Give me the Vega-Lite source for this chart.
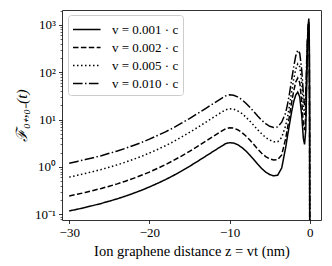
{
"$schema": "https://vega.github.io/schema/vega-lite/v6.json",
"width": 259, "height": 210,
"autosize": {"type": "none"},
"padding": {"left": 62, "top": 10, "right": 11, "bottom": 46},
"background": "white",
"config": {"view": {"stroke": "#333", "strokeWidth": 1}, "font": "Liberation Serif"},
"datasets": {"curves": [
{"z":-30,"v":"0.001","F":0.118},{"z":-29,"v":"0.001","F":0.128},{"z":-28,"v":"0.001","F":0.140},{"z":-27,"v":"0.001","F":0.154},{"z":-26,"v":"0.001","F":0.170},{"z":-25,"v":"0.001","F":0.190},{"z":-24,"v":"0.001","F":0.213},{"z":-23,"v":"0.001","F":0.242},{"z":-22,"v":"0.001","F":0.278},{"z":-21,"v":"0.001","F":0.322},{"z":-20,"v":"0.001","F":0.378},{"z":-19,"v":"0.001","F":0.45},{"z":-18,"v":"0.001","F":0.54},{"z":-17,"v":"0.001","F":0.66},{"z":-16,"v":"0.001","F":0.82},{"z":-15,"v":"0.001","F":1.03},{"z":-14,"v":"0.001","F":1.31},{"z":-13,"v":"0.001","F":1.68},{"z":-12,"v":"0.001","F":2.15},{"z":-11,"v":"0.001","F":2.75},{"z":-10.5,"v":"0.001","F":3.1},{"z":-10,"v":"0.001","F":3.25},{"z":-9.5,"v":"0.001","F":3.2},{"z":-9,"v":"0.001","F":2.95},{"z":-8.5,"v":"0.001","F":2.6},{"z":-8,"v":"0.001","F":2.2},{"z":-7.5,"v":"0.001","F":1.8},{"z":-7,"v":"0.001","F":1.45},{"z":-6.5,"v":"0.001","F":1.15},{"z":-6,"v":"0.001","F":0.93},{"z":-5.5,"v":"0.001","F":0.78},{"z":-5,"v":"0.001","F":0.69},{"z":-4.5,"v":"0.001","F":0.65},{"z":-4,"v":"0.001","F":0.67},{"z":-3.5,"v":"0.001","F":0.95},{"z":-3,"v":"0.001","F":2.6},{"z":-2.75,"v":"0.001","F":4.8},{"z":-2.5,"v":"0.001","F":8.5},{"z":-2.25,"v":"0.001","F":15},{"z":-2,"v":"0.001","F":24},{"z":-1.75,"v":"0.001","F":33},{"z":-1.5,"v":"0.001","F":38},{"z":-1.25,"v":"0.001","F":30},{"z":-1,"v":"0.001","F":12},{"z":-0.8,"v":"0.001","F":4},{"z":-0.65,"v":"0.001","F":3},{"z":-0.5,"v":"0.001","F":6},{"z":-0.4,"v":"0.001","F":40},{"z":-0.3,"v":"0.001","F":250},{"z":-0.2,"v":"0.001","F":1000},{"z":-0.12,"v":"0.001","F":1350},{"z":-0.06,"v":"0.001","F":500},{"z":-0.02,"v":"0.001","F":10},{"z":0,"v":"0.001","F":0.005},
{"z":-30,"v":"0.002","F":0.245},{"z":-29,"v":"0.002","F":0.265},{"z":-28,"v":"0.002","F":0.29},{"z":-27,"v":"0.002","F":0.32},{"z":-26,"v":"0.002","F":0.352},{"z":-25,"v":"0.002","F":0.393},{"z":-24,"v":"0.002","F":0.44},{"z":-23,"v":"0.002","F":0.50},{"z":-22,"v":"0.002","F":0.575},{"z":-21,"v":"0.002","F":0.667},{"z":-20,"v":"0.002","F":0.78},{"z":-19,"v":"0.002","F":0.93},{"z":-18,"v":"0.002","F":1.12},{"z":-17,"v":"0.002","F":1.37},{"z":-16,"v":"0.002","F":1.70},{"z":-15,"v":"0.002","F":2.13},{"z":-14,"v":"0.002","F":2.71},{"z":-13,"v":"0.002","F":3.48},{"z":-12,"v":"0.002","F":4.45},{"z":-11,"v":"0.002","F":5.7},{"z":-10.5,"v":"0.002","F":6.4},{"z":-10,"v":"0.002","F":6.7},{"z":-9.5,"v":"0.002","F":6.6},{"z":-9,"v":"0.002","F":6.1},{"z":-8.5,"v":"0.002","F":5.4},{"z":-8,"v":"0.002","F":4.55},{"z":-7.5,"v":"0.002","F":3.75},{"z":-7,"v":"0.002","F":3.0},{"z":-6.5,"v":"0.002","F":2.4},{"z":-6,"v":"0.002","F":1.95},{"z":-5.5,"v":"0.002","F":1.65},{"z":-5,"v":"0.002","F":1.48},{"z":-4.5,"v":"0.002","F":1.40},{"z":-4,"v":"0.002","F":1.42},{"z":-3.5,"v":"0.002","F":1.8},{"z":-3,"v":"0.002","F":4.0},{"z":-2.75,"v":"0.002","F":7},{"z":-2.5,"v":"0.002","F":13},{"z":-2.25,"v":"0.002","F":24},{"z":-2,"v":"0.002","F":40},{"z":-1.75,"v":"0.002","F":62},{"z":-1.5,"v":"0.002","F":75},{"z":-1.25,"v":"0.002","F":60},{"z":-1,"v":"0.002","F":24},{"z":-0.8,"v":"0.002","F":8},{"z":-0.65,"v":"0.002","F":6},{"z":-0.5,"v":"0.002","F":12},{"z":-0.4,"v":"0.002","F":70},{"z":-0.3,"v":"0.002","F":350},{"z":-0.2,"v":"0.002","F":1000},{"z":-0.12,"v":"0.002","F":1150},{"z":-0.06,"v":"0.002","F":400},{"z":-0.02,"v":"0.002","F":8},{"z":0,"v":"0.002","F":0.005},
{"z":-30,"v":"0.005","F":0.61},{"z":-29,"v":"0.005","F":0.665},{"z":-28,"v":"0.005","F":0.73},{"z":-27,"v":"0.005","F":0.80},{"z":-26,"v":"0.005","F":0.885},{"z":-25,"v":"0.005","F":0.99},{"z":-24,"v":"0.005","F":1.11},{"z":-23,"v":"0.005","F":1.26},{"z":-22,"v":"0.005","F":1.45},{"z":-21,"v":"0.005","F":1.67},{"z":-20,"v":"0.005","F":1.97},{"z":-19,"v":"0.005","F":2.34},{"z":-18,"v":"0.005","F":2.8},{"z":-17,"v":"0.005","F":3.43},{"z":-16,"v":"0.005","F":4.26},{"z":-15,"v":"0.005","F":5.35},{"z":-14,"v":"0.005","F":6.8},{"z":-13,"v":"0.005","F":8.7},{"z":-12,"v":"0.005","F":11.2},{"z":-11,"v":"0.005","F":14.3},{"z":-10.5,"v":"0.005","F":16.1},{"z":-10,"v":"0.005","F":16.9},{"z":-9.5,"v":"0.005","F":16.6},{"z":-9,"v":"0.005","F":15.3},{"z":-8.5,"v":"0.005","F":13.5},{"z":-8,"v":"0.005","F":11.4},{"z":-7.5,"v":"0.005","F":9.4},{"z":-7,"v":"0.005","F":7.6},{"z":-6.5,"v":"0.005","F":6.1},{"z":-6,"v":"0.005","F":5.0},{"z":-5.5,"v":"0.005","F":4.2},{"z":-5,"v":"0.005","F":3.7},{"z":-4.5,"v":"0.005","F":3.4},{"z":-4,"v":"0.005","F":3.4},{"z":-3.5,"v":"0.005","F":4.2},{"z":-3,"v":"0.005","F":7.5},{"z":-2.75,"v":"0.005","F":12},{"z":-2.5,"v":"0.005","F":21},{"z":-2.25,"v":"0.005","F":40},{"z":-2,"v":"0.005","F":72},{"z":-1.75,"v":"0.005","F":115},{"z":-1.5,"v":"0.005","F":150},{"z":-1.25,"v":"0.005","F":130},{"z":-1,"v":"0.005","F":60},{"z":-0.8,"v":"0.005","F":20},{"z":-0.65,"v":"0.005","F":12},{"z":-0.5,"v":"0.005","F":20},{"z":-0.4,"v":"0.005","F":100},{"z":-0.3,"v":"0.005","F":400},{"z":-0.2,"v":"0.005","F":900},{"z":-0.12,"v":"0.005","F":1000},{"z":-0.06,"v":"0.005","F":350},{"z":-0.02,"v":"0.005","F":8},{"z":0,"v":"0.005","F":0.005},
{"z":-30,"v":"0.010","F":1.2},{"z":-29,"v":"0.010","F":1.31},{"z":-28,"v":"0.010","F":1.43},{"z":-27,"v":"0.010","F":1.57},{"z":-26,"v":"0.010","F":1.73},{"z":-25,"v":"0.010","F":1.94},{"z":-24,"v":"0.010","F":2.17},{"z":-23,"v":"0.010","F":2.47},{"z":-22,"v":"0.010","F":2.84},{"z":-21,"v":"0.010","F":3.28},{"z":-20,"v":"0.010","F":3.86},{"z":-19,"v":"0.010","F":4.6},{"z":-18,"v":"0.010","F":5.5},{"z":-17,"v":"0.010","F":6.7},{"z":-16,"v":"0.010","F":8.4},{"z":-15,"v":"0.010","F":10.5},{"z":-14,"v":"0.010","F":13.4},{"z":-13,"v":"0.010","F":17.1},{"z":-12,"v":"0.010","F":21.9},{"z":-11,"v":"0.010","F":28},{"z":-10.5,"v":"0.010","F":31.6},{"z":-10,"v":"0.010","F":33.2},{"z":-9.5,"v":"0.010","F":32.6},{"z":-9,"v":"0.010","F":30.1},{"z":-8.5,"v":"0.010","F":26.5},{"z":-8,"v":"0.010","F":22.4},{"z":-7.5,"v":"0.010","F":18.4},{"z":-7,"v":"0.010","F":14.8},{"z":-6.5,"v":"0.010","F":11.9},{"z":-6,"v":"0.010","F":9.7},{"z":-5.5,"v":"0.010","F":8.2},{"z":-5,"v":"0.010","F":7.2},{"z":-4.5,"v":"0.010","F":6.8},{"z":-4,"v":"0.010","F":7.0},{"z":-3.5,"v":"0.010","F":8.8},{"z":-3,"v":"0.010","F":14},{"z":-2.75,"v":"0.010","F":22},{"z":-2.5,"v":"0.010","F":38},{"z":-2.25,"v":"0.010","F":72},{"z":-2,"v":"0.010","F":130},{"z":-1.75,"v":"0.010","F":220},{"z":-1.5,"v":"0.010","F":290},{"z":-1.25,"v":"0.010","F":250},{"z":-1,"v":"0.010","F":110},{"z":-0.8,"v":"0.010","F":35},{"z":-0.65,"v":"0.010","F":20},{"z":-0.5,"v":"0.010","F":35},{"z":-0.4,"v":"0.010","F":150},{"z":-0.3,"v":"0.010","F":500},{"z":-0.2,"v":"0.010","F":850},{"z":-0.12,"v":"0.010","F":900},{"z":-0.06,"v":"0.010","F":300},{"z":-0.02,"v":"0.010","F":8},{"z":0,"v":"0.010","F":0.005}
]},
"data": {"name": "curves"},
"layer": [
{
"mark": {"type": "line", "clip": true, "strokeWidth": 1.5, "color": "black"},
"encoding": {
"x": {"field": "z", "type": "quantitative", "scale": {"domain": [-30.9, 1.4], "nice": false, "zero": false},
"axis": {"values": [-30, -20, -10, 0], "format": "d", "title": "Ion graphene distance z = vt (nm)", "grid": false, "domain": false, "ticks": true, "tickColor": "black", "tickSize": 3.5, "tickWidth": 0.8, "labelFontSize": 13, "labelColor": "black", "labelFont": "Liberation Serif", "labelPadding": 3, "titleFont": "Liberation Serif", "titleFontSize": 14.5, "titleFontWeight": "normal", "titleColor": "black", "titlePadding": 5}},
"y": {"field": "F", "type": "quantitative", "scale": {"type": "log", "domain": [0.076, 2050], "nice": false},
"axis": {"orient": "left", "values": [0.1, 1, 10, 100, 1000], "labelExpr": "datum.value < 0.5 ? '10⁻¹' : datum.value < 5 ? '10⁰' : datum.value < 50 ? '10¹' : datum.value < 500 ? '10²' : '10³'", "title": "ℱ₀₊,₀₋(t)", "grid": false, "domain": false, "tickColor": "black", "tickSize": 3.5, "tickWidth": 0.8, "labelFontSize": 13, "labelColor": "black", "labelFont": "Liberation Serif", "labelPadding": 3, "titleFont": "Liberation Serif", "titleFontSize": 15.5, "titleFontWeight": "normal", "titleFontStyle": "italic", "titleColor": "black", "titlePadding": 5}},
"strokeDash": {"field": "v", "type": "nominal", "scale": {"domain": ["0.001", "0.002", "0.005", "0.010"], "range": [[1, 0], [5.5, 2.4], [1.5, 2.5], [9.6, 2.4, 1.5, 2.4]]},
"legend": {"orient": "none", "legendX": 6, "legendY": 5, "title": null, "symbolType": "M-1,0H1.9", "symbolSize": 361, "symbolStrokeWidth": 1.5, "symbolStrokeColor": "black", "symbolFillColor": "transparent", "labelFontSize": 13, "labelFont": "Liberation Serif", "labelColor": "black", "labelOffset": 19, "padding": 4, "rowPadding": 0, "fillColor": "white", "strokeColor": "#cccccc", "cornerRadius": 3, "labelExpr": "'v = ' + datum.label + ' · c'"}},
"order": {"field": "z", "type": "quantitative"}
}
},
{
"mark": {"type": "line", "opacity": 0},
"encoding": {
"x": {"field": "z", "type": "quantitative"},
"y": {"field": "F", "type": "quantitative",
"axis": {"orient": "left", "values": [0.08, 0.09, 0.2, 0.3, 0.4, 0.5, 0.6, 0.7, 0.8, 0.9, 2, 3, 4, 5, 6, 7, 8, 9, 20, 30, 40, 50, 60, 70, 80, 90, 200, 300, 400, 500, 600, 700, 800, 900, 2000], "labels": false, "title": null, "grid": false, "domain": false, "tickColor": "black", "tickSize": 2, "tickWidth": 0.6}},
"detail": {"field": "v", "type": "nominal"}
}
}
],
"resolve": {"axis": {"y": "independent"}}
}
